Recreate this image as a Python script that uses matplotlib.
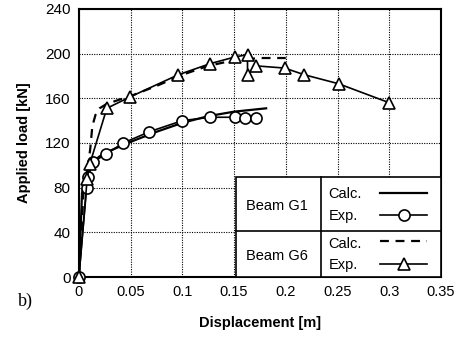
import matplotlib
matplotlib.use("Agg")
import matplotlib.pyplot as plt
from matplotlib.patches import Rectangle
from matplotlib.lines import Line2D

plt.rcParams['font.family'] = ['Liberation Sans', 'DejaVu Sans']

# Beam G1
g1_calc_x = [0, 0.003, 0.006, 0.01, 0.02, 0.03, 0.05, 0.075, 0.1, 0.125, 0.15, 0.181]
g1_calc_y = [0, 75, 90, 100, 108, 113, 121, 130, 138, 144, 148, 151]
g1_exp_x = [0, 0.0075, 0.009, 0.014, 0.026, 0.043, 0.068, 0.1, 0.127, 0.151, 0.161, 0.171]
g1_exp_y = [0, 80, 90, 103, 110, 120, 130, 140, 143, 143, 142, 142]

# Beam G6
g6_calc_x = [0, 0.005, 0.009, 0.011, 0.013, 0.016, 0.02, 0.027, 0.04, 0.05, 0.075, 0.1, 0.125, 0.15, 0.175, 0.2]
g6_calc_y = [0, 85, 100, 115, 135, 145, 151, 155, 159, 162, 171, 181, 189, 194, 196, 196]
g6_exp_x = [0, 0.008, 0.0105, 0.027, 0.049, 0.096, 0.127, 0.151, 0.163, 0.163, 0.171, 0.199, 0.218, 0.251, 0.300]
g6_exp_y = [0, 88, 101, 151, 161, 181, 191, 197, 199, 181, 189, 187, 181, 173, 156]

x_ticks = [0, 0.05, 0.1, 0.15, 0.2, 0.25, 0.3, 0.35]
x_tick_labels = ["0", "0.05", "0.1", "0.15", "0.2", "0.25", "0.3", "0.35"]
y_ticks = [0, 40, 80, 120, 160, 200, 240]

fig = plt.figure(figsize=(4.56, 3.40), dpi=100)
ax = fig.add_axes([0.173, 0.185, 0.794, 0.789])

ax.plot(g1_calc_x, g1_calc_y, color='black', lw=1.6, zorder=3)
ax.plot(g1_exp_x, g1_exp_y, color='black', lw=1.2, marker='o', ms=8,
        mfc='white', mec='black', mew=1.2, zorder=4, clip_on=False)
ax.plot(g6_calc_x, g6_calc_y, color='black', lw=1.6, ls=(0, (4, 3)), zorder=3)
ax.plot(g6_exp_x, g6_exp_y, color='black', lw=1.2, marker='^', ms=9,
        mfc='white', mec='black', mew=1.2, zorder=4, clip_on=False)

ax.set_xlim(0, 0.35)
ax.set_ylim(0, 240)
ax.set_xticks(x_ticks)
ax.set_xticklabels(x_tick_labels)
ax.set_yticks(y_ticks)
ax.tick_params(axis='y', length=0, labelsize=11, pad=6)
ax.tick_params(axis='x', length=0, labelsize=10.5, pad=6)
ax.grid(True, color='black', ls=(0, (1, 1.2)), lw=0.8)
for s in ax.spines.values():
    s.set_linewidth(1.5)

ax.set_xlabel("Displacement [m]", fontweight='bold', fontsize=10.5, labelpad=12)
ax.set_ylabel("Applied load [kN]", fontweight='bold', fontsize=10.5, labelpad=10)

fig.text(0.04, 0.115, "b)", fontsize=13, family=['Liberation Serif'], va='center')

# Legend table
tx0, tx1, tdiv = 0.434, 1.0, 0.668
ty0, ty1, tmid = 0.0, 0.373, 0.172
ax.add_patch(Rectangle((tx0, ty0), tx1 - tx0, ty1 - ty0, transform=ax.transAxes,
                       facecolor='white', edgecolor='black', lw=1.2, zorder=5))
ax.add_line(Line2D([tx0, tx1], [tmid, tmid], transform=ax.transAxes, color='black', lw=1.2, zorder=6))
ax.add_line(Line2D([tdiv, tdiv], [ty0, ty1], transform=ax.transAxes, color='black', lw=1.2, zorder=6))

fs = 10.5
ax.text(0.547, 0.265, "Beam G1", transform=ax.transAxes, ha='center', va='center', fontsize=fs, zorder=7)
ax.text(0.547, 0.080, "Beam G6", transform=ax.transAxes, ha='center', va='center', fontsize=fs, zorder=7)
ax.text(0.690, 0.310, "Calc.", transform=ax.transAxes, ha='left', va='center', fontsize=fs, zorder=7)
ax.text(0.690, 0.228, "Exp.", transform=ax.transAxes, ha='left', va='center', fontsize=fs, zorder=7)
ax.text(0.690, 0.122, "Calc.", transform=ax.transAxes, ha='left', va='center', fontsize=fs, zorder=7)
ax.text(0.690, 0.045, "Exp.", transform=ax.transAxes, ha='left', va='center', fontsize=fs, zorder=7)

lx0, lx1 = 0.832, 0.962
ax.add_line(Line2D([lx0, lx1], [0.313, 0.313], transform=ax.transAxes, color='black', lw=1.6, zorder=7))
ax.add_line(Line2D([lx0, lx1], [0.231, 0.231], transform=ax.transAxes, color='black', lw=1.2, zorder=7))
ax.add_line(Line2D([(lx0 + lx1) / 2], [0.231], transform=ax.transAxes, marker='o', ms=8,
                   mfc='white', mec='black', mew=1.2, zorder=8))
ax.add_line(Line2D([lx0, lx1], [0.134, 0.134], transform=ax.transAxes, color='black', lw=1.6,
                   ls=(0, (4, 3)), zorder=7))
ax.add_line(Line2D([lx0, lx1], [0.049, 0.049], transform=ax.transAxes, color='black', lw=1.2, zorder=7))
ax.add_line(Line2D([(lx0 + lx1) / 2], [0.049], transform=ax.transAxes, marker='^', ms=9,
                   mfc='white', mec='black', mew=1.2, zorder=8))

fig.savefig("out.png", dpi=100)
